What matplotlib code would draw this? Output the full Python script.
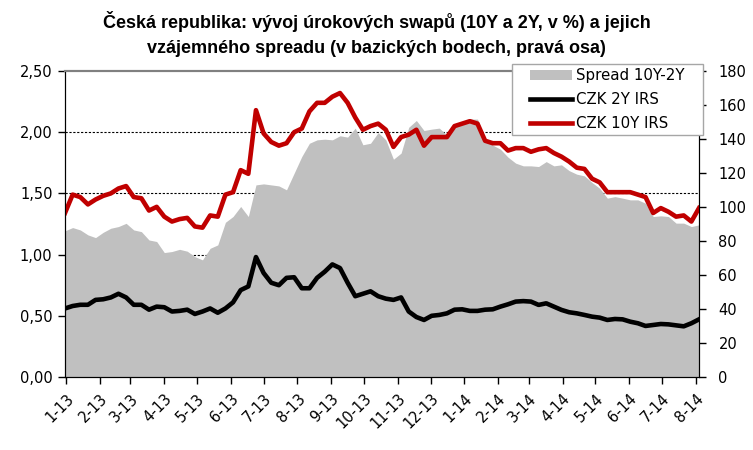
import pandas as pd
import matplotlib
matplotlib.use("Agg")
import matplotlib.pyplot as plt
from matplotlib.patches import Rectangle
from matplotlib.ticker import FuncFormatter

# weekly values (2013-01 .. 2014-08)
dates = pd.date_range("2012-12-31", periods=84, freq="7D")

irs_10y = [1.34, 1.49, 1.47, 1.41, 1.45, 1.48, 1.50, 1.54, 1.56, 1.47,
           1.46, 1.36, 1.39, 1.31, 1.27, 1.29, 1.30, 1.23, 1.22, 1.32,
           1.31, 1.49, 1.51, 1.69, 1.66, 2.18, 1.99, 1.92, 1.89, 1.91,
           2.00, 2.03, 2.17, 2.24, 2.24, 2.29, 2.32, 2.24, 2.12, 2.02,
           2.05, 2.07, 2.02, 1.88, 1.96, 1.98, 2.02, 1.89, 1.96, 1.96,
           1.96, 2.05, 2.07, 2.09, 2.07, 1.93, 1.91, 1.91, 1.85, 1.87,
           1.87, 1.84, 1.86, 1.87, 1.83, 1.80, 1.76, 1.71, 1.70, 1.62,
           1.59, 1.51, 1.51, 1.51, 1.51, 1.49, 1.47, 1.34, 1.38, 1.35,
           1.31, 1.32, 1.27, 1.38]

irs_2y = [0.56, 0.58, 0.59, 0.59, 0.63, 0.635, 0.65, 0.68, 0.65, 0.59,
          0.59, 0.55, 0.575, 0.57, 0.535, 0.54, 0.55, 0.515, 0.535, 0.56,
          0.525, 0.56, 0.61, 0.71, 0.74, 0.98, 0.85, 0.77, 0.75, 0.81,
          0.815, 0.725, 0.725, 0.81, 0.86, 0.92, 0.89, 0.77, 0.66, 0.68,
          0.70, 0.66, 0.64, 0.63, 0.65, 0.535, 0.49, 0.466, 0.50, 0.507,
          0.52, 0.55, 0.553, 0.54, 0.54, 0.55, 0.553, 0.575, 0.594, 0.616,
          0.62, 0.616, 0.589, 0.602, 0.575, 0.548, 0.529, 0.52, 0.507, 0.493,
          0.485, 0.466, 0.474, 0.471, 0.452, 0.439, 0.417, 0.425, 0.433, 0.43,
          0.422, 0.414, 0.439, 0.471]

spread = [86.0, 87.9, 86.5, 83.6, 82.0, 85.1, 87.5, 88.5, 90.4, 86.5,
          85.5, 80.6, 79.7, 73.2, 73.8, 75.1, 74.0, 70.8, 68.9, 75.7,
          77.7, 91.0, 94.4, 100.3, 94.4, 113.0, 113.6, 113.0, 112.4, 110.1,
          119.9, 129.7, 137.5, 139.5, 139.9, 139.5, 141.9, 141.1, 146.4, 136.6,
          137.5, 143.8, 139.5, 128.1, 131.7, 146.9, 150.9, 145.0, 145.8, 146.4,
          142.4, 147.3, 150.3, 151.7, 151.7, 139.9, 136.4, 134.0, 129.3, 125.8,
          124.2, 124.2, 123.8, 126.7, 124.2, 124.8, 121.4, 119.3, 118.3, 114.4,
          111.0, 105.2, 106.1, 105.2, 104.2, 104.2, 102.2, 94.4, 94.8, 94.4,
          90.5, 90.5, 88.5, 89.5]

month_ticks = pd.date_range("2013-01-01", "2014-08-01", freq="MS")
month_labels = [f"{d.month}-{d.strftime('%y')}" for d in month_ticks]

title = ("Česká republika: vývoj úrokových swapů (10Y a 2Y, v %) a jejich\n"
         "vzájemného spreadu (v bazických bodech, pravá osa)")

plt.rcParams["font.family"] = ["DejaVu Sans"]

fig = plt.figure(figsize=(7.53, 4.50), dpi=100)
ax = fig.add_axes([65 / 753, 1 - 377 / 450, (699 - 65) / 753, (377 - 71) / 450])
ax2 = ax.twinx()

# spread (right axis) sits at the back, rates on top
ax.set_zorder(2)
ax2.set_zorder(1)
ax.patch.set_visible(False)

for g in [36, 72, 108, 144]:
    ax2.axhline(g, color="black", lw=0.8, ls=(0, (2, 1.5)), zorder=0)
sp = ax2.fill_between(dates, 0, spread, color="#c0c0c0", lw=0, zorder=1)

l2, = ax.plot(dates, irs_2y, color="black", lw=3.3)
l10, = ax.plot(dates, irs_10y, color="#c00000", lw=3.3)

ax.set_ylim(0, 2.5)
ax2.set_ylim(0, 180)
ax.set_xlim(dates[0], dates[-1])
ax.set_yticks([0, 0.5, 1.0, 1.5, 2.0, 2.5])
ax.yaxis.set_major_formatter(FuncFormatter(lambda v, p: f"{v:.2f}".replace(".", ",")))
ax2.set_yticks(range(0, 181, 20))

ax.set_xticks(month_ticks)
ax.set_xticklabels(month_labels, rotation=45, ha="right", va="top",
                   rotation_mode="anchor")

for a in (ax, ax2):
    a.tick_params(labelsize=10.5, length=5, width=1, direction="out", colors="black")
    for s in a.spines.values():
        s.set_color("black")
    a.spines["top"].set_color("#808080")
    a.spines["top"].set_linewidth(1.5)
ax.tick_params(axis="x", pad=5)
ax.tick_params(axis="y", pad=4)
ax2.tick_params(axis="y", pad=9)

fig.text(0.5, 1 - 11 / 450, title, ha="center", va="top", fontsize=13,
         fontweight="bold", family="Liberation Sans", linespacing=1.6)

# legend box covers the top-right corner of the plot
box = Rectangle((512 / 753, 1 - 135 / 450), (703 - 512) / 753, 71 / 450,
                transform=fig.transFigure, facecolor="white",
                edgecolor="#a6a6a6", lw=1, zorder=10)
fig.add_artist(box)
leg = fig.legend([sp, l2, l10], ["Spread 10Y-2Y", "CZK 2Y IRS", "CZK 10Y IRS"],
                 loc="upper left", bbox_to_anchor=(530 / 753, 1 - 68 / 450),
                 bbox_transform=fig.transFigure, fontsize=10.8, frameon=False,
                 handlelength=2.8, handletextpad=0.25, borderpad=0,
                 labelspacing=0.6, borderaxespad=0)
leg.set_zorder(11)

fig.savefig("out.png", dpi=100)
